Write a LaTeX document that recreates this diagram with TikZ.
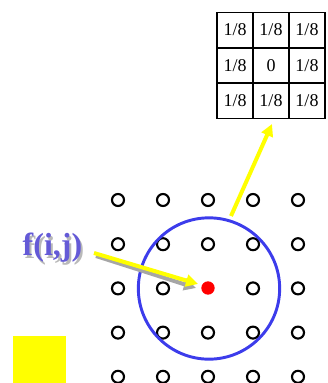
\documentclass[tikz,border=0pt]{standalone}
\usepackage{fontspec}
\setmainfont{Liberation Serif}
\usetikzlibrary{arrows.meta}
\definecolor{fblue}{RGB}{100,90,215}
\definecolor{ringblue}{RGB}{60,60,235}
\definecolor{yel}{RGB}{255,255,0}
\tikzset{
  pix/.style={draw=black,line width=1.6pt,circle,inner sep=0pt,minimum size=9pt},
  cell/.style={draw=black,line width=1.2pt,minimum width=27pt,minimum height=26.5pt,inner sep=0pt,font=\fontsize{13.5}{13.5}\selectfont},
  yarrow/.style={draw=yel,line width=3pt,-{Triangle[length=9pt,width=9pt]}},
  sarrow/.style={draw=gray!70,line width=3pt,-{Triangle[length=9pt,width=9pt]}},
  flabel/.style={font=\bfseries\fontsize{24}{24}\selectfont},
}
\begin{document}
\begin{tikzpicture}[x=0.75pt,y=-0.75pt]
\useasboundingbox (0,0) rectangle (328,383);
% matrix
\foreach \r in {0,1,2} \foreach \c in {0,1,2} {
  \node[cell] (m\r\c) at ({235+36*\c},{30+35.5*\r}) {\ifnum\r=1 \ifnum\c=1 0\else 1/8\fi\else 1/8\fi};
}
% grid
\foreach \r in {0,...,4} \foreach \c in {0,...,4} {
  \ifnum\r=2 \ifnum\c=2 \else
  \node[pix] (p\r\c) at ({118+45*\c},{200+44.2*\r}) {};
  \fi\else
  \node[pix] (p\r\c) at ({118+45*\c},{200+44.2*\r}) {};
  \fi
}
\node[circle,fill=red,inner sep=0pt,minimum size=10pt] (center) at (208,288) {};
\node[circle,draw=ringblue,line width=2.2pt,minimum size=106pt,inner sep=0pt] (ring) at (209,288.5) {};
% label with shadow
\node[flabel,text=gray!55] (fs) at (54.5,250.5) {f(i,j)};
\node[flabel,text=fblue] (f) at (52.5,248) {f(i,j)};
% arrows
\coordinate (a1s) at (94,253);
\coordinate (a1e) at (198,284);
\draw[sarrow] ([shift={(2,3)}]a1s) -- ([shift={(-2,4)}]a1e);
\draw[yarrow] (a1s) -- (a1e);
\coordinate (a2s) at (231,216);
\coordinate (a2e) at (272,124);
\draw[yarrow] (a2s) -- (a2e);
% yellow box
\fill[yel] (13,336) rectangle (66,383);
\end{tikzpicture}
\end{document}
